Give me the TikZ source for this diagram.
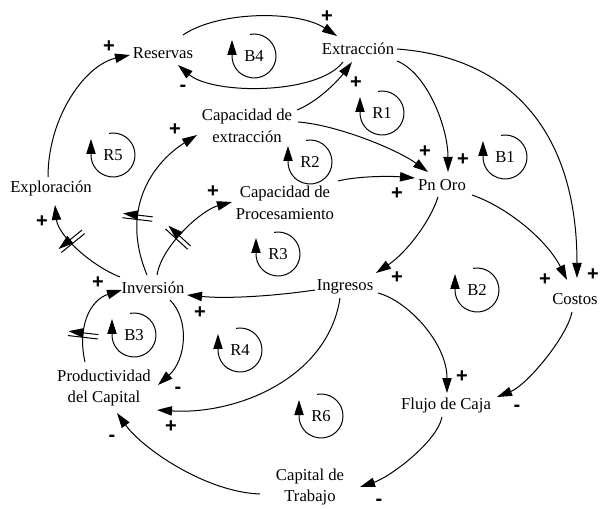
\documentclass[tikz,border=0pt]{standalone}
\usepackage{fontspec}
\setmainfont{Liberation Serif}
\setsansfont{Liberation Sans}
\usetikzlibrary{arrows.meta,calc,decorations.markings}
\tikzset{
  var/.style={inner sep=0pt, align=center, font=\fontsize{10}{13}\selectfont},
  looplbl/.style={inner sep=0pt, font=\fontsize{10}{12}\selectfont},
  sgn/.style={inner sep=0pt, font=\sffamily\bfseries\fontsize{12}{12}\selectfont},
  link/.style={line width=0.6pt, -{Triangle[length=9pt,width=5.6pt]}},
  loopline/.style={line width=0.6pt, -{Triangle[length=9pt,width=5.6pt]}},
  delaymark/.style={postaction={decorate}, decoration={markings,
     mark=at position #1 with {\draw[line width=0.6pt] (-2.2,-15)--(-2.2,15) (2.2,-15)--(2.2,15);}}}
}
\newcommand\fbloop[3]{%
  \node[looplbl] (#1) at (#2) {#3};
  \draw[loopline] ($(#1)+(100:22)$) arc[start angle=100, end angle=-180, radius=22] -- ++(0,16);
}
\begin{document}
\begin{tikzpicture}[x=0.6pt,y=0.6pt]
\useasboundingbox (0,0) rectangle (600,-509);
% variables
\node[var] (res) at (163,-53) {Reservas};
\node[var] (ext) at (358,-49) {Extracción};
\node[var] (cex) at (247,-126) {Capacidad de\\extracción};
\node[var] (cpr) at (285,-203) {Capacidad de\\Procesamiento};
\node[var] (pno) at (442,-185) {Pn Oro};
\node[var] (exp) at (51,-188) {Exploración};
\node[var] (inv) at (153,-288) {Inversión};
\node[var] (ing) at (345,-287) {Ingresos};
\node[var] (cos) at (575,-299) {Costos};
\node[var] (pro) at (104,-388) {Productividad\\del Capital};
\node[var] (flu) at (446,-405) {Flujo de Caja};
\node[var] (cap) at (310,-487) {Capital de\\Trabajo};
% links
\draw[link] ($(res)+(20,18)$) .. controls +(35,24) and +(-40,26) .. ($(ext)+(-21,13)$);
\draw[link] ($(ext)+(-15,-13)$) .. controls +(-25,-33) and +(35,-30) .. ($(res)+(15,-12)$);
\draw[link] ($(cex)+(50,16)$) .. controls +(20,8) and +(-15,-20) .. ($(ext)+(-6,-13)$);
\draw[link] ($(exp)+(-3,11)$) .. controls +(0,60) and +(-45,-10) .. ($(res)+(-33,-2)$);
\draw[link,delaymark=0.6] ($(inv)+(-33,11)$) .. controls +(-30,12) and +(3,-30) .. ($(exp)+(4,-17)$);
\draw[link,delaymark=0.36] ($(inv)+(-6,13)$) .. controls +(-29,70) and +(-40,-25) .. ($(cex)+(-50,-9)$);
\draw[link,delaymark=0.4] ($(inv)+(4,13)$) .. controls +(5,30) and +(-30,-8) .. ($(cpr)+(-53,1)$);
\draw[link] ($(cex)+(51,4)$) .. controls +(40,-3) and +(-30,22) .. ($(pno)+(-14,13)$);
\draw[link] ($(cpr)+(53,22)$) .. controls +(20,5) and +(-25,2) .. ($(pno)+(-27,7)$);
\draw[link] ($(ext)+(39,-12)$) .. controls +(30,-12) and +(0,45) .. ($(pno)+(6,13)$);
\draw[link] ($(ext)+(39,0)$) .. controls +(110,-8) and +(0,150) .. ($(cos)+(2,21)$);
\draw[link] ($(pno)+(30,-10)$) .. controls +(35,-12) and +(-20,40) .. ($(cos)+(-8,19)$);
\draw[link] ($(pno)+(-4,-12)$) .. controls +(-8,-25) and +(30,20) .. ($(ing)+(31,14)$);
\draw[link] ($(ing)+(-30,-3)$) .. controls +(-40,-6) and +(40,-4) .. ($(inv)+(34,-7)$);
\draw[link] ($(inv)+(17,-12)$) .. controls +(20,-20) and +(28,25) .. ($(pro)+(54,3)$);
\draw[link,delaymark=0.3] ($(pro)+(-19,26)$) .. controls +(-8,35) and +(-32,-10) .. ($(inv)+(-31,-2)$);
\draw[link] ($(ing)+(-5,-11)$) .. controls +(-12,-80) and +(80,-5) .. ($(pro)+(53,-22)$);
\draw[link] ($(ing)+(33,-6)$) .. controls +(30,-8) and +(0,50) .. ($(flu)+(1,12)$);
\draw[link] ($(cos)+(-3,-13)$) .. controls +(-5,-25) and +(30,12) .. ($(flu)+(51,8)$);
\draw[link] ($(flu)+(-4,-12)$) .. controls +(-5,-25) and +(30,10) .. ($(cap)+(50,0)$);
\draw[link] ($(cap)+(-50,-7)$) .. controls +(-55,2) and +(25,-35) .. ($(pro)+(13,-25)$);
% signs
\node[sgn] (s1) at (327,-17) {+};
\node[sgn] (s2) at (183,-88) {-};
\node[sgn] (s3) at (356,-83) {+};
\node[sgn] (s4) at (109,-47) {+};
\node[sgn] (s5) at (42,-222) {+};
\node[sgn] (s6) at (175,-130) {+};
\node[sgn] (s7) at (213,-192) {+};
\node[sgn] (s8) at (425,-152) {+};
\node[sgn] (s9) at (397,-194) {+};
\node[sgn] (s10) at (463,-160) {+};
\node[sgn] (s11) at (593,-275) {+};
\node[sgn] (s12) at (545,-280) {+};
\node[sgn] (s13) at (397,-278) {+};
\node[sgn] (s14) at (200,-313) {+};
\node[sgn] (s15) at (178,-390) {-};
\node[sgn] (s16) at (98,-283) {+};
\node[sgn] (s17) at (171,-427) {+};
\node[sgn] (s18) at (462,-377) {+};
\node[sgn] (s19) at (517,-408) {-};
\node[sgn] (s20) at (379,-502) {-};
\node[sgn] (s21) at (112,-438) {-};
% loops
\fbloop{lB4}{254,-56}{B4}
\fbloop{lR1}{382,-113}{R1}
\fbloop{lR5}{113,-155}{R5}
\fbloop{lR2}{310,-162}{R2}
\fbloop{lB1}{505,-157}{B1}
\fbloop{lR3}{278,-254}{R3}
\fbloop{lB2}{477,-290}{B2}
\fbloop{lB3}{134,-335}{B3}
\fbloop{lR4}{240,-350}{R4}
\fbloop{lR6}{321,-416}{R6}
\end{tikzpicture}
\end{document}
